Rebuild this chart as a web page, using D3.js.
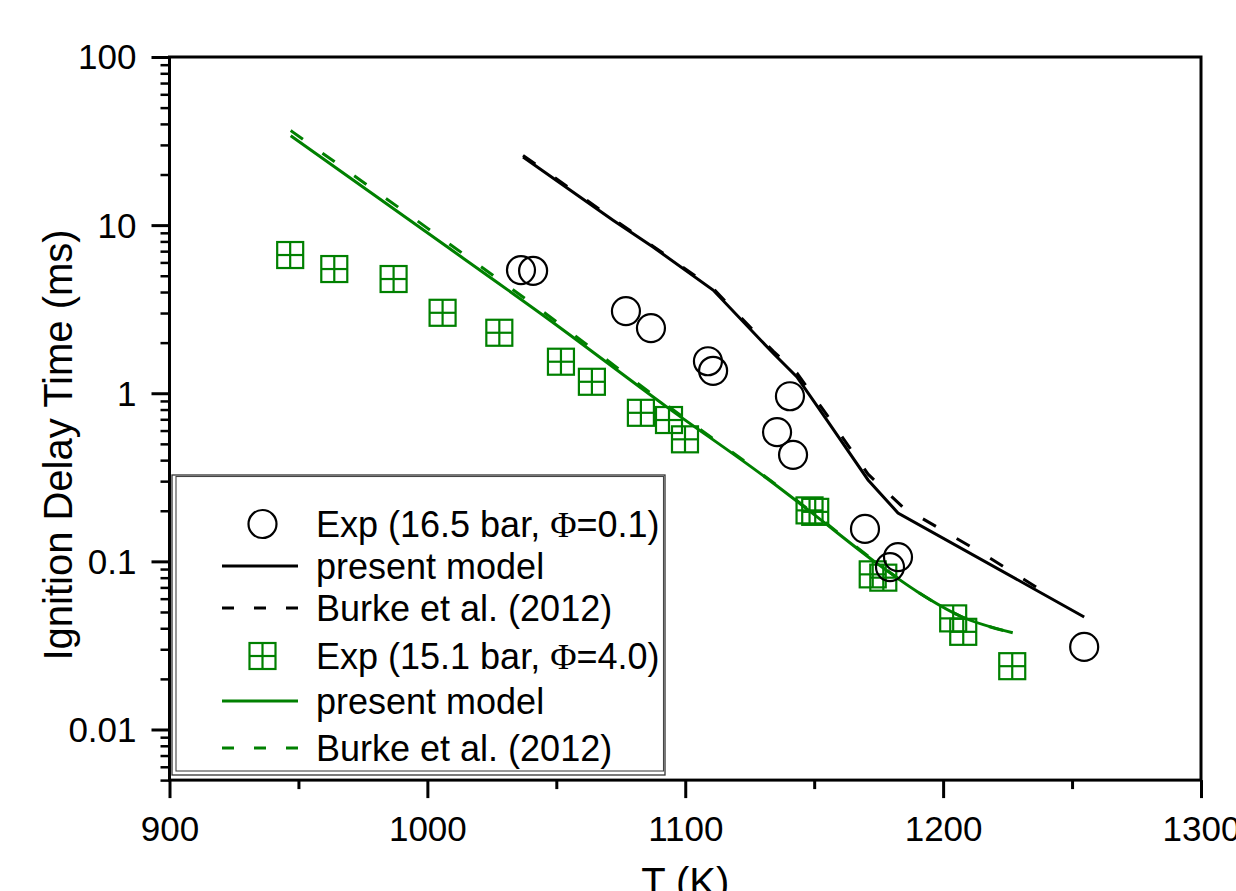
<!DOCTYPE html>
<html><head><meta charset="utf-8">
<script src="https://cdn.jsdelivr.net/npm/d3@7"></script>
<style>
body{margin:0;background:#fff}
svg{display:block}
text{font-family:"Liberation Sans",Arial,Helvetica,sans-serif;fill:#000}
</style>
</head><body>
<svg id="chart" width="1236" height="891"></svg>
<script>
// ---- data ----
const xTickValues = [900, 1000, 1100, 1200, 1300];
const xTickLabels = ["900", "1000", "1100", "1200", "1300"];
const xMinorTicks = [950, 1050, 1150, 1250];
const yTickValues = [0.01, 0.1, 1, 10, 100];
const yTickLabels = ["0.01", "0.1", "1", "10", "100"];

// Exp (16.5 bar, Phi=0.1)
const expLeanT   = [1036.3, 1041.0, 1077.0, 1086.7, 1108.8, 1110.8, 1140.6, 1135.6, 1141.8, 1169.7, 1182.5, 1179.4, 1254.7];
const expLeanTau = [5.40, 5.35, 3.08, 2.44, 1.55, 1.36, 0.96, 0.587, 0.43, 0.156, 0.106, 0.0925, 0.031];
// present model (lean)
const modelLeanT   = [1037.1, 1072.0, 1087.5, 1110.8, 1134.1, 1143.3, 1155.0, 1170.9, 1182.5, 1254.7];
const modelLeanTau = [25.4, 10.7, 7.41, 4.11, 1.73, 1.25, 0.69, 0.305, 0.194, 0.0467];
// Burke et al. (2012) (lean)
const burkeLeanT   = [1037.1, 1072.0, 1087.5, 1110.8, 1134.1, 1143.3, 1155.0, 1170.9, 1184.4, 1215.0, 1242.3];
const burkeLeanTau = [26.0, 10.9, 7.5, 4.2, 1.78, 1.32, 0.74, 0.33, 0.21, 0.112, 0.0614];

// Exp (15.1 bar, Phi=4.0)
const expRichT   = [946.8, 963.9, 986.9, 1005.9, 1027.9, 1051.8, 1063.8, 1082.8, 1093.7, 1099.9, 1148.2, 1150.4, 1172.7, 1176.8, 1203.9, 1207.8, 1226.8];
const expRichTau = [6.64, 5.48, 4.78, 3.01, 2.29, 1.54, 1.17, 0.765, 0.693, 0.532, 0.201, 0.197, 0.0837, 0.080, 0.0458, 0.0381, 0.0238];
// present model (rich)
const modelRichT   = [947, 1000, 1047.5, 1092.8, 1131.6, 1149, 1174, 1190, 1207, 1227];
const modelRichTau = [34.0, 9.0, 2.72, 0.83, 0.312, 0.195, 0.098, 0.066, 0.047, 0.0376];
// Burke et al. (2012) (rich)
const burkeRichT   = [947, 1000, 1047.5, 1092.8, 1131.6, 1149, 1174, 1190, 1207, 1227];
const burkeRichTau = [36.5, 9.6, 2.85, 0.85, 0.315, 0.197, 0.099, 0.066, 0.047, 0.0376];

const legendLabels = ["Exp (16.5 bar, \u03A6=0.1)", "present model", "Burke et al. (2012)",
                      "Exp (15.1 bar, \u03A6=4.0)", "present model", "Burke et al. (2012)"];

// ---- chart ----
const GREEN = "#008000";
const svg = d3.select("#chart");
const x = d3.scaleLinear().domain([900, 1300]).range([169.5, 1201]);
const y = d3.scaleLog().domain([0.005, 100]).range([780.1, 57]);
const X0 = x.range()[0], X1 = x.range()[1], Y0 = y.range()[0], Y1 = y.range()[1];

const zip = (a, b) => a.map((v, i) => [v, b[i]]);

// minor y ticks
const yMinor = [];
for (let d = -3; d <= 1; d++) for (let m = 2; m <= 9; m++) {
  const v = m * Math.pow(10, d);
  if (v >= 0.005 - 1e-12 && v <= 100) yMinor.push(v);
}

const tickFont = 35;

// Y axis minor
svg.append("g").attr("transform", `translate(${X0},0)`)
  .call(d3.axisLeft(y).tickValues(yMinor).tickSize(9).tickFormat(""))
  .call(g => { g.select(".domain").remove(); g.selectAll("line").attr("stroke", "#000").attr("stroke-width", 2.5); });
// Y axis major
svg.append("g").attr("transform", `translate(${X0},0)`)
  .call(d3.axisLeft(y).tickValues(yTickValues).tickSize(18).tickPadding(15)
        .tickFormat((d, i) => yTickLabels[i]))
  .call(g => {
    g.select(".domain").remove();
    g.selectAll("line").attr("stroke", "#000").attr("stroke-width", 3);
    g.selectAll("text").attr("font-size", tickFont).attr("font-family", '"Liberation Sans",Arial,sans-serif').attr("fill", "#000").attr("dy", "0.34em");
  });

// X axis minor
svg.append("g").attr("transform", `translate(0,${Y0})`)
  .call(d3.axisBottom(x).tickValues(xMinorTicks).tickSize(9).tickFormat(""))
  .call(g => { g.select(".domain").remove(); g.selectAll("line").attr("stroke", "#000").attr("stroke-width", 3); });
// X axis major
svg.append("g").attr("transform", `translate(0,${Y0})`)
  .call(d3.axisBottom(x).tickValues(xTickValues).tickSize(18).tickPadding(18)
        .tickFormat((d, i) => xTickLabels[i]))
  .call(g => {
    g.select(".domain").remove();
    g.selectAll("line").attr("stroke", "#000").attr("stroke-width", 3);
    g.selectAll("text").attr("font-size", tickFont).attr("font-family", '"Liberation Sans",Arial,sans-serif').attr("fill", "#000");
  });

// frame
svg.append("rect").attr("x", X0).attr("y", Y1).attr("width", X1 - X0).attr("height", Y0 - Y1)
  .attr("fill", "none").attr("stroke", "#000").attr("stroke-width", 3);

// axis titles
svg.append("text").attr("transform", `translate(72,445) rotate(-90)`)
  .attr("text-anchor", "middle").attr("font-size", 40).text("Ignition Delay Time (ms)");
svg.append("text").attr("x", (X0 + X1) / 2).attr("y", 896)
  .attr("text-anchor", "middle").attr("font-size", 40).text("T (K)");

// lines
const line = d3.line().x(d => x(d[0])).y(d => y(d[1]));
const lineSmooth = d3.line().x(d => x(d[0])).y(d => y(d[1])).curve(d3.curveMonotoneX);
const plot = svg.append("g");

plot.append("path").datum(zip(burkeRichT, burkeRichTau)).attr("d", lineSmooth)
  .attr("fill", "none").attr("stroke", GREEN).attr("stroke-width", 3).attr("stroke-dasharray", "15,24");
plot.append("path").datum(zip(modelRichT, modelRichTau)).attr("d", lineSmooth)
  .attr("fill", "none").attr("stroke", GREEN).attr("stroke-width", 3);
plot.append("path").datum(zip(burkeLeanT, burkeLeanTau)).attr("d", line)
  .attr("fill", "none").attr("stroke", "#000").attr("stroke-width", 3).attr("stroke-dasharray", "15,24");
plot.append("path").datum(zip(modelLeanT, modelLeanTau)).attr("d", line)
  .attr("fill", "none").attr("stroke", "#000").attr("stroke-width", 3);

// markers
function drawSquare(g, cx, cy) {
  const s = 13;
  g.append("rect").attr("x", cx - s).attr("y", cy - s).attr("width", 2 * s).attr("height", 2 * s)
    .attr("fill", "none").attr("stroke", GREEN).attr("stroke-width", 2.2);
  g.append("line").attr("x1", cx - s).attr("x2", cx + s).attr("y1", cy).attr("y2", cy)
    .attr("stroke", GREEN).attr("stroke-width", 2.2);
  g.append("line").attr("x1", cx).attr("x2", cx).attr("y1", cy - s).attr("y2", cy + s)
    .attr("stroke", GREEN).attr("stroke-width", 2.2);
}
function drawCircle(g, cx, cy) {
  g.append("circle").attr("cx", cx).attr("cy", cy).attr("r", 14)
    .attr("fill", "none").attr("stroke", "#000").attr("stroke-width", 2.2);
}
const mk = svg.append("g");
zip(expRichT, expRichTau).forEach(d => drawSquare(mk, x(d[0]), y(d[1])));
zip(expLeanT, expLeanTau).forEach(d => drawCircle(mk, x(d[0]), y(d[1])));

// legend
const lg = svg.append("g");
const LX0 = 172, LY0 = 475, LX1 = 665, LY1 = 775;
lg.append("rect").attr("x", LX0).attr("y", LY0).attr("width", LX1 - LX0).attr("height", LY1 - LY0)
  .attr("fill", "#fff").attr("stroke", "#333").attr("stroke-width", 1.3);
lg.append("rect").attr("x", LX0 + 4).attr("y", LY0 + 1.5).attr("width", LX1 - LX0 - 5.5).attr("height", LY1 - LY0 - 5.5)
  .attr("fill", "none").attr("stroke", "#444").attr("stroke-width", 1.1);

const rowYs = [524, 566, 608, 656, 701, 748];
const symX0 = 222, symX1 = 298, symC = 262.5, textX = 316;
legendLabels.forEach((lab, i) => {
  const cy = rowYs[i];
  const t = lg.append("text").attr("x", textX).attr("y", cy).attr("dy", "0.35em").attr("font-size", 36);
  const k = lab.indexOf("\u03A6");
  if (k >= 0) {
    t.append("tspan").text(lab.slice(0, k));
    t.append("tspan").attr("font-family", '"Liberation Serif","Times New Roman",serif').text("\u03A6");
    t.append("tspan").text(lab.slice(k + 1));
  } else t.text(lab);
  const col = i < 3 ? "#000" : GREEN;
  if (i === 0) drawCircle(lg, symC, cy);
  else if (i === 3) drawSquare(lg, symC, cy);
  else {
    lg.append("line").attr("x1", symX0).attr("x2", symX1).attr("y1", cy).attr("y2", cy)
      .attr("stroke", col).attr("stroke-width", 3)
      .attr("stroke-dasharray", (i === 2 || i === 5) ? "12,20" : null);
  }
});
</script>
</body></html>
